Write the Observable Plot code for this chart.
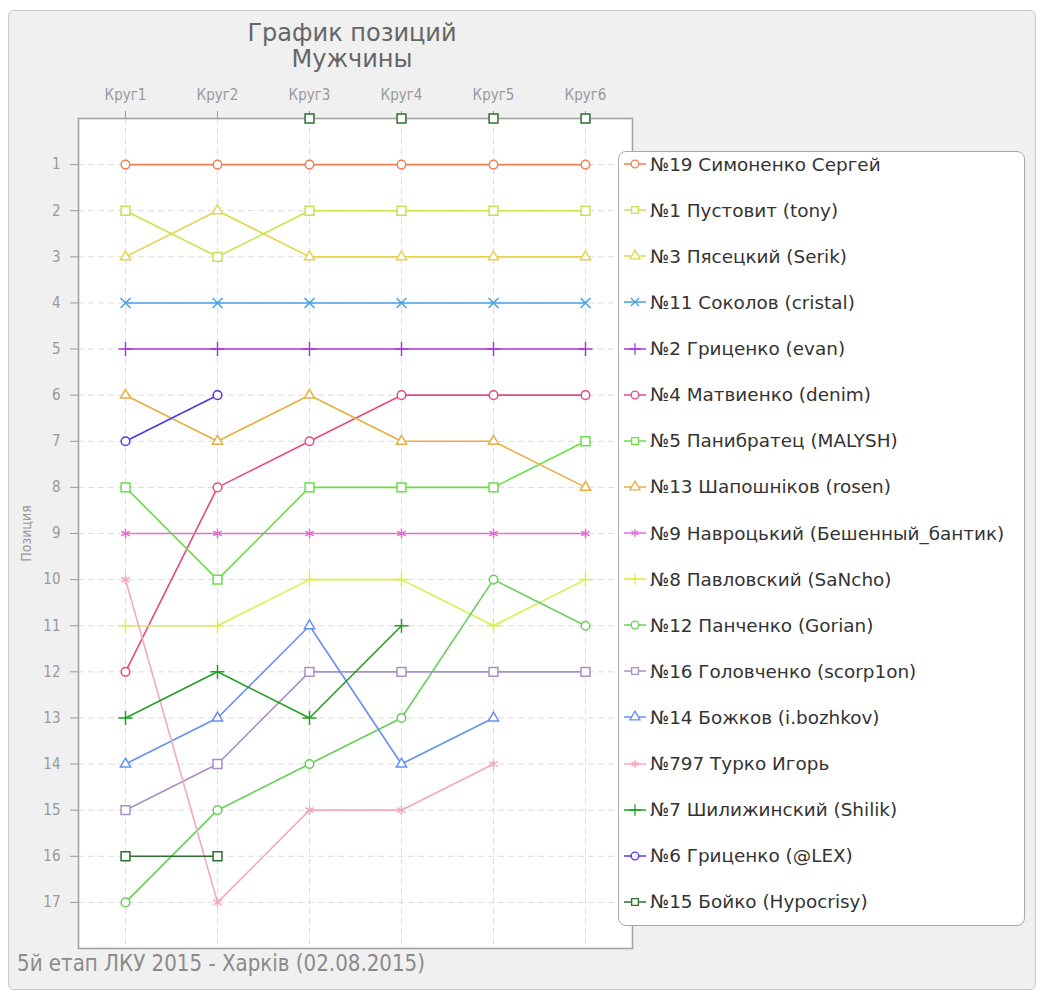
<!DOCTYPE html>
<html><head><meta charset="utf-8">
<script src="https://cdn.jsdelivr.net/npm/d3@7"></script>
<script src="https://cdn.jsdelivr.net/npm/@observablehq/plot@0.6"></script>
<style>
body{margin:0;background:#fff;}
#wrap{position:relative;width:1041px;height:994px;overflow:hidden;}
#panel{position:absolute;left:8px;top:10px;width:1028px;height:980px;background:#f0f0f0;border:1px solid #c8c8c8;border-radius:6px;box-sizing:border-box;}
#chart{position:absolute;left:0;top:0;}
.title{position:absolute;left:0;width:704px;text-align:center;font-family:"DejaVu Sans";font-size:24px;color:#666;line-height:24px;height:24px;}
#caption{position:absolute;left:17px;top:952px;font-family:"DejaVu Sans Condensed","DejaVu Sans";font-stretch:condensed;font-size:23px;line-height:23px;color:#8a8a8a;white-space:nowrap;transform-origin:0 0;}
#legend{position:absolute;left:618px;top:151px;width:407px;height:775px;background:#fff;border:1px solid #a8a8a8;border-radius:8px;box-sizing:border-box;}
.item{position:absolute;left:3px;height:24px;display:flex;align-items:center;font-family:"DejaVu Sans";font-size:18.4px;color:#333;white-space:nowrap;}
.item svg{margin-right:4px;}
</style></head>
<body><div id="wrap"><div id="panel"></div><div id="chart"></div>
<div class="title" style="top:21px">График позиций</div>
<div class="title" style="top:47px">Мужчины</div>
<div id="legend"></div>
<div id="caption">5й етап ЛКУ 2015 - Харків (02.08.2015)</div>
</div>
<script>
const rounds = ["Круг1","Круг2","Круг3","Круг4","Круг5","Круг6"];
const names = [
 "№19 Симоненко Сергей",
 "№1 Пустовит (tony)",
 "№3 Пясецкий (Serik)",
 "№11 Соколов (cristal)",
 "№2 Гриценко (evan)",
 "№4 Матвиенко (denim)",
 "№5 Панибратец (MALYSH)",
 "№13 Шапошніков (rosen)",
 "№9 Навроцький (Бешенный_бантик)",
 "№8 Павловский (SaNcho)",
 "№12 Панченко (Gorian)",
 "№16 Головченко (scorp1on)",
 "№14 Божков (i.bozhkov)",
 "№797 Турко Игорь",
 "№7 Шилижинский (Shilik)",
 "№6 Гриценко (@LEX)",
 "№15 Бойко (Hypocrisy)"
];
// 0 = marker on the top edge (no position), null = no marker
const positions = [
 [1,1,1,1,1,1],
 [2,3,2,2,2,2],
 [3,2,3,3,3,3],
 [4,4,4,4,4,4],
 [5,5,5,5,5,5],
 [12,8,7,6,6,6],
 [8,10,8,8,8,7],
 [6,7,6,7,7,8],
 [9,9,9,9,9,9],
 [11,11,10,10,11,10],
 [17,15,14,13,10,11],
 [15,14,12,12,12,12],
 [14,13,11,14,13,null],
 [10,17,15,15,14,null],
 [13,12,13,11,null,null],
 [7,6,null,null,null,null],
 [16,16,0,0,0,0]
];
const colors = ["#f0804f","#c6e34f","#e6d451","#46a0e6","#a33ae0","#e84a80","#66e045","#e6b042","#e070d6","#d9ef4a","#66d055","#a890c6","#6690f0","#f2a8c0","#22a022","#5535e0","#2e6e2e"];
const symbols = ["circle","square","triangle","times","plus","circle","square","triangle","asterisk","plus","circle","square","triangle","asterisk","plus","circle","square"];
const symbolR = {circle: 4.3, square: 5, triangle: 3.8, times: 4.6, plus: 4.6, asterisk: 4.6};
const yTicks = d3.range(1, 18);

const rows = names.flatMap((n, i) => rounds.map((r, j) => ({name: n, sym: symbols[i], round: r, pos: positions[i][j]})));
const pts = rows.filter(d => d.pos != null);

const plot = Plot.plot({
  width: 1041, height: 994,
  marginLeft: 78, marginRight: 409, marginTop: 118, marginBottom: 46,
  style: {background: "transparent", fontFamily: "'DejaVu Sans Condensed', 'DejaVu Sans'", fontSize: "15px", color: "#999", overflow: "visible"},
  x: {type: "point", domain: rounds, padding: 0.5, axis: "top", label: null, tickSize: 8, tickPadding: 11},
  y: {domain: [0, 18], reverse: true, ticks: yTicks, tickFormat: d => String(d), tickSize: 8, tickPadding: 10, label: null},
  color: {domain: names, range: colors},
  symbol: {domain: names, range: symbols},
  marks: [
    Plot.frame({fill: "white", stroke: null}),
    Plot.ruleY(yTicks, {stroke: "#dcdcdc", strokeDasharray: "6,4"}),
    Plot.ruleX(rounds, {stroke: "#dcdcdc", strokeDasharray: "6,4"}),
    Plot.frame({stroke: "#a4a4a4", strokeWidth: 1.6}),
    Plot.text(["Позиция"], {frameAnchor: "left", textAnchor: "middle", dx: -52, rotate: -90, fill: "#999", fontSize: 14}),
    Plot.line(rows, {x: "round", y: d => (d.pos > 0 ? d.pos : NaN), z: "name", stroke: "name", strokeWidth: 1.6}),
    ...Object.keys(symbolR).map(s =>
      Plot.dot(pts.filter(d => d.sym === s), {x: "round", y: "pos", symbol: "name", stroke: "name", fill: "white", r: symbolR[s], strokeWidth: 1.5}))
  ]
});
document.getElementById("chart").append(plot);

// legend rows aligned with the plot's y scale
const ys = plot.scale("y");
const symMap = {circle: d3.symbolCircle, square: d3.symbolSquare, triangle: d3.symbolTriangle, times: d3.symbolTimes, plus: d3.symbolPlus, asterisk: d3.symbolAsterisk};
const legend = document.getElementById("legend");
names.forEach((n, i) => {
  const y = ys.apply(i + 1) - 151 - 1 - 12;
  const item = document.createElement("div");
  item.className = "item";
  item.style.top = y + "px";
  const svg = d3.create("svg").attr("width", 24).attr("height", 24);
  svg.append("line").attr("x1", 2).attr("x2", 24).attr("y1", 12).attr("y2", 12).attr("stroke", colors[i]).attr("stroke-width", 1.5);
  svg.append("path").attr("d", d3.symbol(symMap[symbols[i]], 45)()).attr("transform", "translate(13,12)")
     .attr("fill", "white").attr("stroke", colors[i]).attr("stroke-width", 1.3);
  item.append(svg.node());
  const span = document.createElement("span");
  span.textContent = n;
  item.append(span);
  legend.append(item);
});

// fit caption to its width in the reference
const cap = document.getElementById("caption");
const w = cap.getBoundingClientRect().width;
cap.style.transform = `scaleX(${408 / w})`;
</script>
</body></html>
